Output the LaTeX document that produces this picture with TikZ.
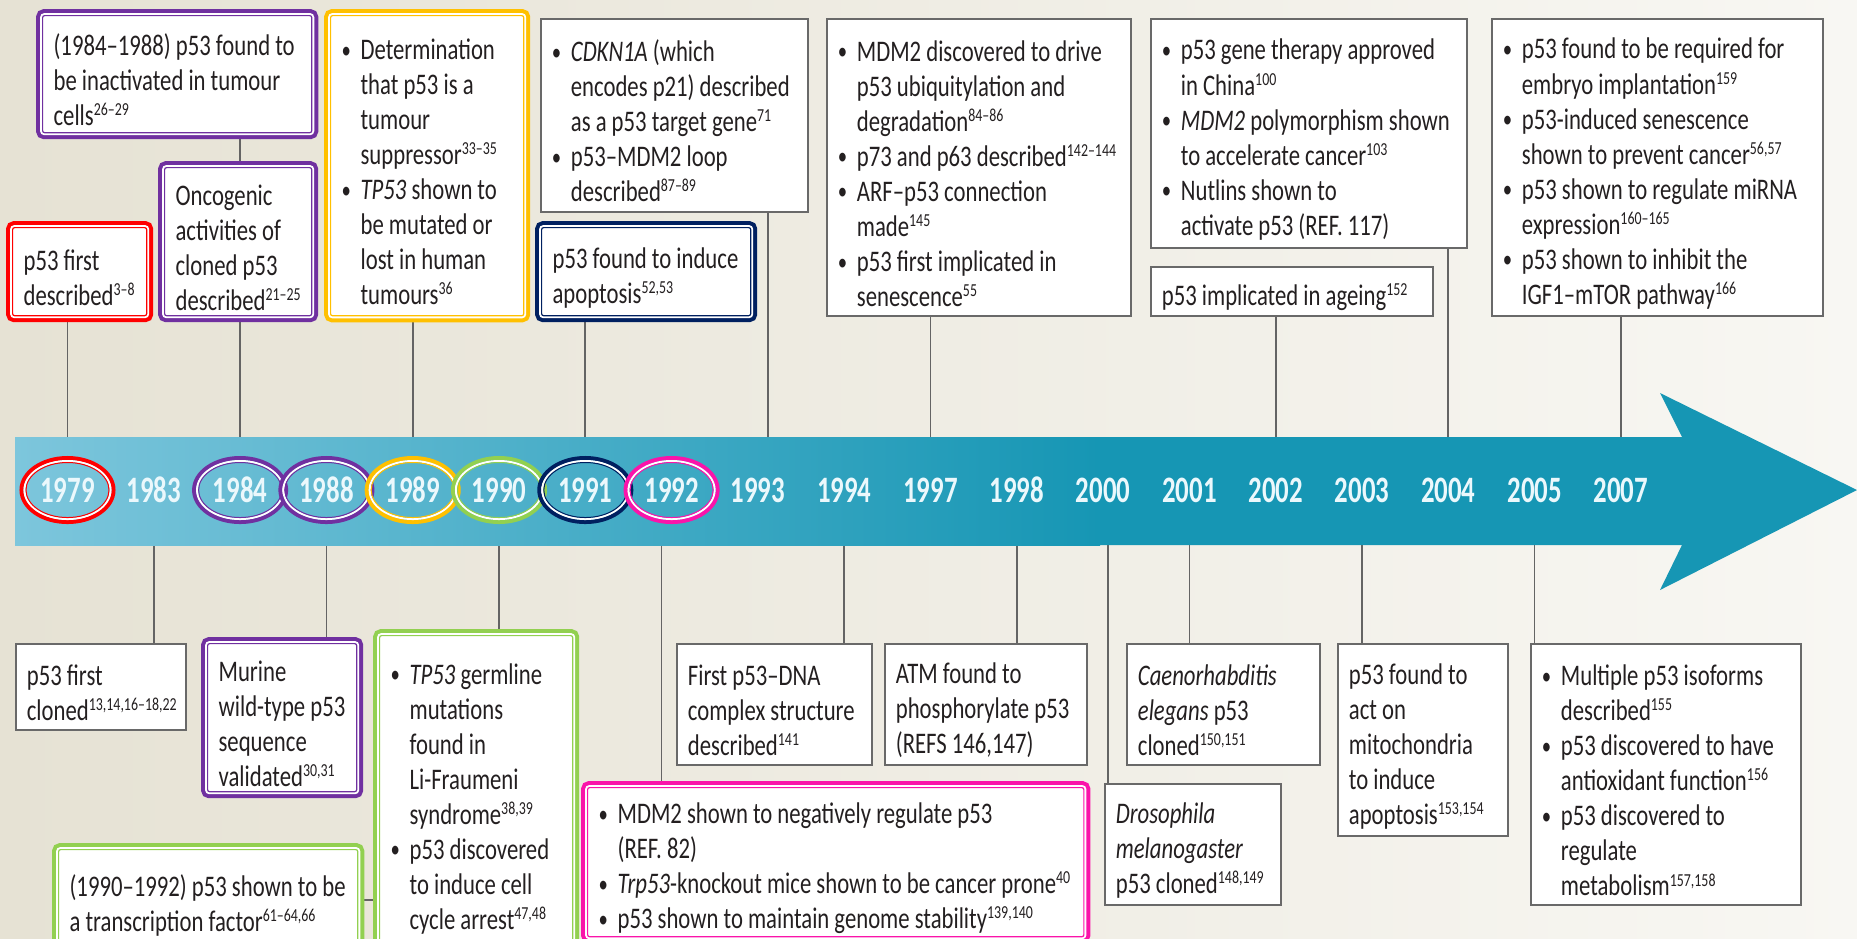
\documentclass[tikz,border=0pt]{standalone}
\usepackage{fontspec}
\setmainfont{Carlito}[FakeStretch=0.76]
\newfontfamily\yearfont{Carlito}[FakeStretch=0.72]
\usetikzlibrary{backgrounds}
\definecolor{hlred}{RGB}{255,0,0}
\definecolor{hlpurple}{RGB}{112,48,160}
\definecolor{hlyellow}{RGB}{255,192,0}
\definecolor{hlgreen}{RGB}{146,208,80}
\definecolor{hlnavy}{RGB}{0,32,96}
\definecolor{hlpink}{RGB}{250,20,170}
\definecolor{boxgray}{RGB}{105,105,105}
\definecolor{linkgray}{RGB}{100,100,100}
\definecolor{inkgray}{RGB}{35,31,32}
\definecolor{bandlight}{RGB}{125,198,220}
\definecolor{bandmid}{RGB}{80,175,205}
\definecolor{bandteal}{RGB}{22,150,180}
\definecolor{yeartext}{RGB}{235,248,252}
\definecolor{bgleft}{RGB}{230,226,212}
\definecolor{bgright}{RGB}{248,247,243}
\newcommand{\evfont}{\fontsize{8.5pt}{9.96pt}\selectfont\spaceskip=1.45pt plus 1pt minus 0.4pt\xspaceskip=\spaceskip\relax}
\newcommand{\rf}[1]{\textsuperscript{\fontsize{5.2pt}{5.2pt}\selectfont #1}}
\newcommand{\bul}{\leftskip=0.19cm\relax\leavevmode\llap{\makebox[0.19cm][l]{\raisebox{0.1ex}{\fontsize{7pt}{7pt}\selectfont\textbullet}}}}
\begin{document}
\begin{tikzpicture}[x=0.01cm, y=-0.01cm,
    evbox/.style={draw=boxgray, fill=white, line width=0.5pt, anchor=north west, align=flush left,
      inner xsep=0.11cm, inner ysep=0.02cm, text=inkgray, font=\evfont, text height=0.33cm},
    hlbox/.style={evbox, draw=#1, line width=0.012cm, rounded corners=0.02cm,
      preaction={draw=#1, line width=0.13cm},
      preaction={draw=white, line width=0.05cm}},
    yearlbl/.style={font=\yearfont\bfseries\fontsize{10.6pt}{12pt}\selectfont, text=yeartext, inner sep=0pt},
    link/.style={draw=linkgray, line width=0.5pt}]

\useasboundingbox (0,0) rectangle (1857,938);
\clip (0,0) rectangle (1857,938);
\begin{scope}[on background layer]
  \shade[left color=bgleft, right color=bgright] (0,0) rectangle (1857,938);
\end{scope}

\fill[bandteal] (15,437) -- (1682,437) -- (1660,393) -- (1857,490) -- (1660,590) -- (1682,545) -- (15,545) -- cycle;
\shade[left color=bandlight, middle color=bandmid, right color=bandteal] (15,437) rectangle (1100,545);
\coordinate (bandtop) at (0,437);
\coordinate (bandbot) at (0,545);

\foreach \yr [count=\i from 0] in {1979,1983,1984,1988,1989,1990,1991,1992,1993,1994,1997,1998,2000,2001,2002,2003,2004,2005,2007}
  \node[yearlbl] (y\yr) at ({67.5+86.3*\i},490) {\yr};

\foreach \yr/\cl in {1979/hlred,1984/hlpurple,1988/hlpurple,1989/hlyellow,1990/hlgreen,1991/hlnavy,1992/hlpink} {
  \draw[\cl, line width=0.04cm] (y\yr) ellipse [x radius=0.46cm, y radius=0.32cm];
  \draw[white, line width=0.02cm] (y\yr) ellipse [x radius=0.43cm, y radius=0.29cm];
  \draw[\cl, line width=0.01cm] (y\yr) ellipse [x radius=0.415cm, y radius=0.275cm];
}

\node[hlbox=hlpurple, text width=2.47cm, minimum height=1.17cm] (evinact) at (42,15)
  {(1984–1988) p53 found to\\ be inactivated in tumour\\ cells\rf{26–29}};
\node[hlbox=hlred, text width=1.12cm, minimum height=0.88cm] (evdesc) at (12,227)
  {p53 first\\ described\rf{3–8}};
\node[hlbox=hlpurple, text width=1.25cm, minimum height=1.48cm] (evonco) at (164,167)
  {Oncogenic\\ activities of\\ cloned p53\\ described\rf{21–25}};
\node[hlbox=hlyellow, text width=1.71cm, minimum height=3cm] (evsupp) at (330,15)
  {\bul Determination\\ that p53 is a\\ tumour\\ suppressor\rf{33–35}\par
   \bul \textit{TP53} shown to\\ be mutated or\\ lost in human\\ tumours\rf{36}\par};
\node[evbox, text width=2.45cm, minimum height=1.93cm] (evcdkn) at (540,18)
  {\bul \textit{CDKN1A} (which\\ encodes p21) described\\ as a p53 target gene\rf{71}\par
   \bul p53–MDM2 loop\\ described\rf{87–89}\par};
\node[hlbox=hlnavy, text width=1.87cm, minimum height=0.88cm] (evapop) at (541,227)
  {p53 found to induce\\ apoptosis\rf{52,53}};
\node[evbox, text width=2.82cm, minimum height=2.97cm] (evmdm) at (826,18)
  {\bul MDM2 discovered to drive\\ p53 ubiquitylation and\\ degradation\rf{84–86}\par
   \bul p73 and p63 described\rf{142–144}\par
   \bul ARF–p53 connection\\ made\rf{145}\par
   \bul p53 first implicated in\\ senescence\rf{55}\par};
\node[evbox, text width=2.94cm, minimum height=2.29cm] (evtherapy) at (1150,18)
  {\bul p53 gene therapy approved\\ in China\rf{100}\par
   \bul \textit{MDM2} polymorphism shown\\ to accelerate cancer\rf{103}\par
   \bul Nutlins shown to\\ activate p53 (REF. 117)\par};
\node[evbox, text width=2.6cm, minimum height=0.49cm] (evageing) at (1150,266)
  {p53 implicated in ageing\rf{152}};
\node[evbox, text width=3.09cm, minimum height=2.97cm] (evembryo) at (1491,18)
  {\bul p53 found to be required for\\ embryo implantation\rf{159}\par
   \bul p53-induced senescence\\ shown to prevent cancer\rf{56,57}\par
   \bul p53 shown to regulate miRNA\\ expression\rf{160–165}\par
   \bul p53 shown to inhibit the\\ IGF1–mTOR pathway\rf{166}\par};

\node[evbox, text width=1.48cm, minimum height=0.86cm] (evclone) at (15,643)
  {p53 first\\ cloned\rf{13,14,16–18,22}};
\node[hlbox=hlpurple, text width=1.27cm, minimum height=1.48cm] (evmurine) at (207,643)
  {Murine\\ wild-type p53\\ sequence\\ validated\rf{30,31}};
\node[hlbox=hlgreen, text width=1.71cm, minimum height=3.14cm] (evgerm) at (379,635)
  {\bul \textit{TP53} germline\\ mutations\\ found in\\ Li-Fraumeni\\ syndrome\rf{38,39}\par
   \bul p53 discovered\\ to induce cell\\ cycle arrest\rf{47,48}\par};
\node[hlbox=hlgreen, text width=2.77cm, minimum height=1cm] (evtrans) at (58,849)
  {(1990–1992) p53 shown to be\\ a transcription factor\rf{61–64,66}};
\node[evbox, text width=1.73cm, minimum height=1.21cm] (evdna) at (676,643)
  {First p53–DNA\\ complex structure\\ described\rf{141}};
\node[evbox, text width=1.8cm, minimum height=1.21cm] (evatm) at (884,643)
  {ATM found to\\ phosphorylate p53\\ (REFS 146,147)};
\node[hlbox=hlpink, text width=4.74cm, minimum height=1.49cm] (evmdmneg) at (587,787)
  {\bul MDM2 shown to negatively regulate p53\\ (REF. 82)\par
   \bul \textit{Trp53}-knockout mice shown to be cancer prone\rf{40}\par
   \bul p53 shown to maintain genome stability\rf{139,140}\par};
\node[evbox, text width=1.71cm, minimum height=1.21cm] (evworm) at (1126,643)
  {\textit{Caenorhabditis}\\ \textit{elegans} p53\\ cloned\rf{150,151}};
\node[evbox, text width=1.54cm, minimum height=1.21cm] (evfly) at (1104,783)
  {\textit{Drosophila}\\ \textit{melanogaster}\\ p53 cloned\rf{148,149}};
\node[evbox, text width=1.48cm, minimum height=1.92cm] (evmito) at (1337,643)
  {p53 found to\\ act on\\ mitochondria\\ to induce\\ apoptosis\rf{153,154}};
\node[evbox, text width=2.48cm, minimum height=2.61cm] (eviso) at (1530,643)
  {\bul Multiple p53 isoforms\\ described\rf{155}\par
   \bul p53 discovered to have\\ antioxidant function\rf{156}\par
   \bul p53 discovered to\\ regulate\\ metabolism\rf{157,158}\par};

\coordinate (k1993) at ([xshift=0.1cm]y1993);
\coordinate (k1992) at ([xshift=-0.1cm]y1992);
\coordinate (k2000) at ([xshift=0.05cm]y2000);
\begin{scope}[on background layer]
  \draw[link] (y1979 |- evdesc.south) -- (y1979 |- bandtop);
  \draw[link] (y1984 |- evinact.south) -- (y1984 |- bandtop);
  \draw[link] (y1989 |- evsupp.south) -- (y1989 |- bandtop);
  \draw[link] (y1991 |- evapop.south) -- (y1991 |- bandtop);
  \draw[link] (k1993 |- evcdkn.south) -- (k1993 |- bandtop);
  \draw[link] (y1997 |- evmdm.south) -- (y1997 |- bandtop);
  \draw[link] (y2002 |- evageing.south) -- (y2002 |- bandtop);
  \draw[link] (y2004 |- evtherapy.south) -- (y2004 |- bandtop);
  \draw[link] (y2007 |- evembryo.south) -- (y2007 |- bandtop);
  \draw[link] (y1983 |- bandbot) -- (y1983 |- evclone.north);
  \draw[link] (y1988 |- bandbot) -- (y1988 |- evmurine.north);
  \draw[link] (y1990 |- bandbot) -- (y1990 |- evtrans.east) -- (evtrans.east);
  \draw[link] (k1992 |- bandbot) -- (k1992 |- evmdmneg.north);
  \draw[link] (y1994 |- bandbot) -- (y1994 |- evdna.north);
  \draw[link] (y1998 |- bandbot) -- (y1998 |- evatm.north);
  \draw[link] (k2000 |- bandbot) -- (k2000 |- evfly.north);
  \draw[link] (y2001 |- bandbot) -- (y2001 |- evworm.north);
  \draw[link] (y2003 |- bandbot) -- (y2003 |- evmito.north);
  \draw[link] (y2005 |- bandbot) -- (y2005 |- eviso.north);
\end{scope}
\end{tikzpicture}
\end{document}
